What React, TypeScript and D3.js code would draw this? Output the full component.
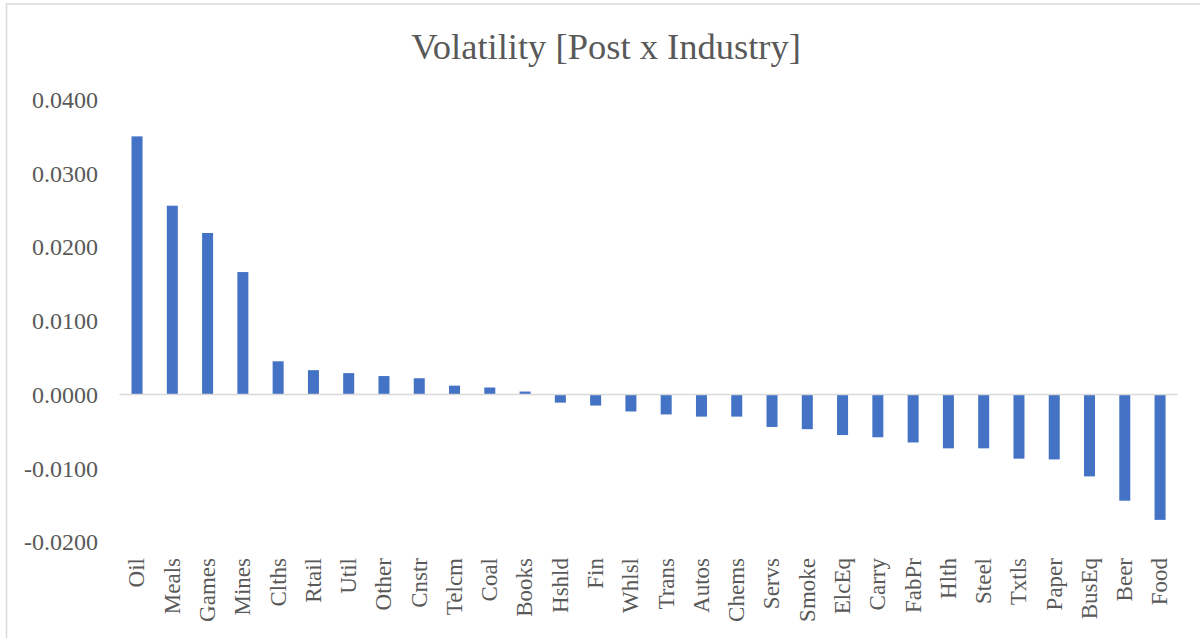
import React, { useEffect, useRef } from "react";
import * as d3 from "d3";

const industries = [
  "Oil", "Meals", "Games", "Mines", "Clths", "Rtail", "Util", "Other", "Cnstr", "Telcm",
  "Coal", "Books", "Hshld", "Fin", "Whlsl", "Trans", "Autos", "Chems", "Servs", "Smoke",
  "ElcEq", "Carry", "FabPr", "Hlth", "Steel", "Txtls", "Paper", "BusEq", "Beer", "Food",
];

const volatility = [
  0.0350, 0.0256, 0.0219, 0.0166, 0.0045, 0.0033, 0.0029, 0.0025, 0.0022, 0.0012,
  0.00095, 0.0004, -0.0011, -0.0015, -0.0023, -0.0027, -0.0030, -0.0030, -0.0044, -0.0047,
  -0.0055, -0.0058, -0.0065, -0.0073, -0.0073, -0.0087, -0.0088, -0.0111, -0.0144, -0.0170,
];

const yTicks = [-0.02, -0.01, 0, 0.01, 0.02, 0.03, 0.04];

const title = "Volatility [Post x Industry]";

const App = () => {
  const svgRef = useRef(null);
  const width = 1200;
  const height = 638;
  const font = "'Liberation Serif', 'Times New Roman', serif";
  const textColor = "#595959";

  useEffect(() => {
    const svg = d3.select(svgRef.current);
    svg.selectAll("*").remove();

    // chart frame
    svg
      .append("rect")
      .attr("x", 6.5)
      .attr("y", 4)
      .attr("width", width + 20)
      .attr("height", height + 20)
      .attr("fill", "#ffffff")
      .attr("stroke", "#d9d9d9")
      .attr("stroke-width", 1.5);

    svg
      .append("text")
      .attr("x", 606)
      .attr("y", 59)
      .attr("text-anchor", "middle")
      .attr("font-family", font)
      .attr("font-size", 36.5)
      .attr("fill", textColor)
      .text(title);

    const xScale = d3
      .scaleBand()
      .domain(industries)
      .range([119.4, 1177.7])
      .paddingInner(0.688)
      .paddingOuter(0.344);

    const yScale = d3.scaleLinear().domain([-0.02, 0.04]).range([542, 99.5]);

    // y labels
    svg
      .append("g")
      .selectAll("text")
      .data(yTicks)
      .enter()
      .append("text")
      .attr("x", 98)
      .attr("y", (d) => yScale(d))
      .attr("dy", "0.35em")
      .attr("text-anchor", "end")
      .attr("font-family", font)
      .attr("font-size", 24)
      .attr("fill", textColor)
      .text((d) => d3.format(".4f")(d).replace("−", "-"));

    // bars
    svg
      .append("g")
      .selectAll("rect")
      .data(volatility)
      .enter()
      .append("rect")
      .attr("x", (d, i) => xScale(industries[i]))
      .attr("y", (d) => yScale(Math.max(0, d)))
      .attr("width", xScale.bandwidth())
      .attr("height", (d) => Math.abs(yScale(d) - yScale(0)))
      .attr("fill", "#4472c4");

    // zero line
    svg
      .append("line")
      .attr("x1", 119.4)
      .attr("x2", 1177.7)
      .attr("y1", yScale(0))
      .attr("y2", yScale(0))
      .attr("stroke", "#d9d9d9")
      .attr("stroke-width", 1.5);

    // category labels, rotated
    svg
      .append("g")
      .selectAll("text")
      .data(industries)
      .enter()
      .append("text")
      .attr("transform", (d) => `translate(${xScale(d) + xScale.bandwidth() / 2}, 558) rotate(-90)`)
      .attr("dy", "0.32em")
      .attr("text-anchor", "end")
      .attr("font-family", font)
      .attr("font-size", 23)
      .attr("fill", textColor)
      .text((d) => d);
  }, []);

  return (
    <div style={{ position: "absolute", left: 0, top: 0, width, height, overflow: "hidden" }}>
      <svg ref={svgRef} width={width} height={height} style={{ display: "block" }} />
    </div>
  );
};

export default App;
